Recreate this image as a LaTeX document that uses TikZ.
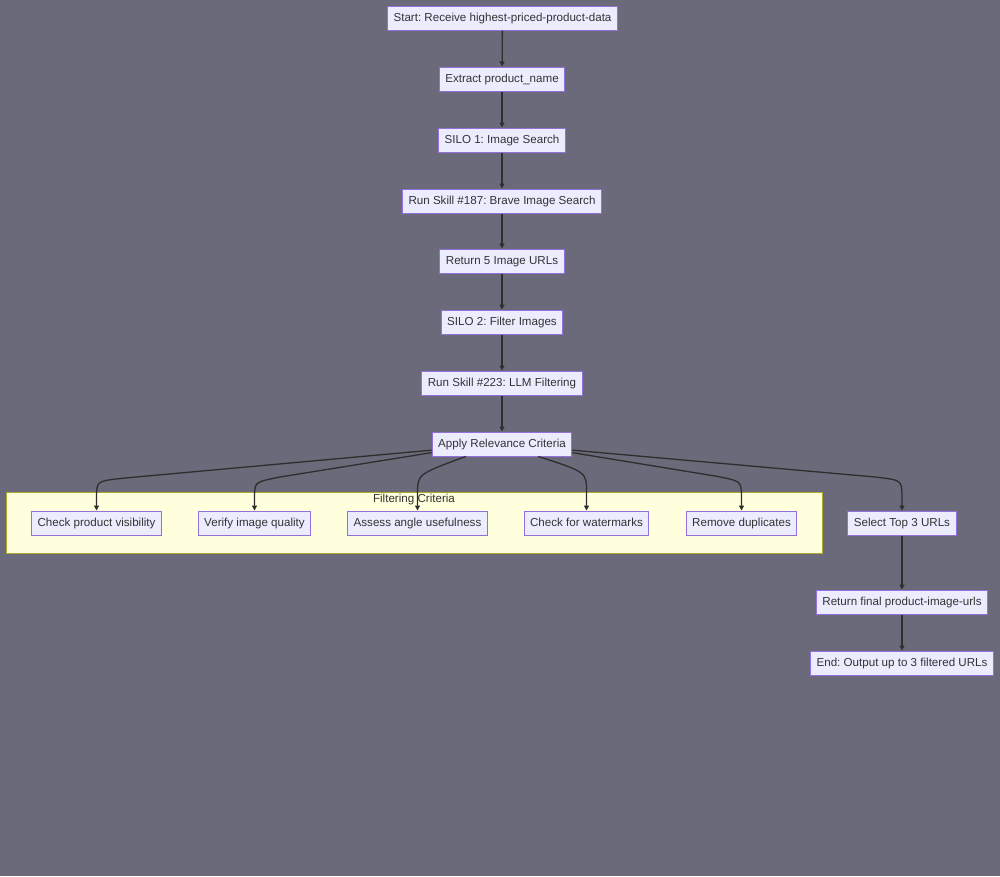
\documentclass[tikz,border=0pt]{standalone}
\usepackage{fontspec}
\setmainfont{Liberation Sans}
\usetikzlibrary{arrows.meta}
\frenchspacing
\definecolor{bg}{RGB}{106,106,122}
\definecolor{nodefill}{HTML}{ECECFF}
\definecolor{nodeline}{HTML}{9370DB}
\definecolor{txt}{HTML}{333333}
\definecolor{clfill}{HTML}{FFFFDE}
\definecolor{clline}{HTML}{AAAA33}
\definecolor{edge}{HTML}{2E2E2E}
\tikzset{
  box/.style={draw=nodeline, fill=nodefill, line width=1pt, text=txt,
    font=\fontsize{11.6}{13}\selectfont\frenchspacing, minimum height=24pt, inner ysep=0pt, inner xsep=6pt,
    text height=9.8pt, text depth=2.2pt},
  conn/.style={draw=edge, line width=1.3pt, -{Triangle[length=5pt,width=5pt]}},
  cluster/.style={draw=clline, fill=clfill, line width=1pt},
  cltitle/.style={text=txt, font=\fontsize{11.6}{13}\selectfont}
}
\begin{document}
\begin{tikzpicture}[x=1pt,y=-1pt]
\fill[bg] (0,0) rectangle (1000,876);
\useasboundingbox (0,0) rectangle (1000,876);
% cluster
\draw[cluster] (6,492) rectangle (822,553);
\node[cltitle] (cltitle) at (414,499) {Filtering Criteria};
% main chain
\node[box] (start) at (502.5,18) {Start: Receive highest-priced-product-data};
\node[box] (extract) at (502,79) {Extract product\_name};
\node[box] (silo1) at (502,140) {SILO 1: Image Search};
\node[box] (skill187) at (502,201) {Run Skill \#187: Brave Image Search};
\node[box] (ret5) at (502,261) {Return 5 Image URLs};
\node[box] (silo2) at (502,322) {SILO 2: Filter Images};
\node[box] (skill223) at (502,383) {Run Skill \#223: LLM Filtering};
\node[box] (apply) at (502,444) {Apply Relevance Criteria};
% filter nodes
\node[box] (vis) at (96.5,523) {Check product visibility};
\node[box] (qual) at (254.5,523) {Verify image quality};
\node[box] (angle) at (417.5,523) {Assess angle usefulness};
\node[box] (water) at (586.5,523) {Check for watermarks};
\node[box] (dup) at (741.5,523) {Remove duplicates};
\node[box] (top3) at (902,523) {Select Top 3 URLs};
\node[box] (final) at (902,602) {Return final product-image-urls};
\node[box] (endn) at (902,663) {End: Output up to 3 filtered URLs};
% straight edges
\draw[conn] (start) -- (extract);
\draw[conn] (extract) -- (silo1);
\draw[conn] (silo1) -- (skill187);
\draw[conn] (skill187) -- (ret5);
\draw[conn] (ret5) -- (silo2);
\draw[conn] (silo2) -- (skill223);
\draw[conn] (skill223) -- (apply);
\draw[conn] (top3) -- (final);
\draw[conn] (final) -- (endn);
% curved edges
\draw[conn] (apply.185) -- (125,478) .. controls (97,481) .. (96.5,495) -- (vis.north);
\draw[conn] (apply.187) -- (280,477) .. controls (255,482) .. (254.5,495) -- (qual.north);
\draw[conn] (apply.199) .. controls (418,474) .. (417.5,492) -- (angle.north);
\draw[conn] (apply.341) .. controls (586.5,472) .. (586.5,492) -- (water.north);
\draw[conn] (apply.353) -- (715,476) .. controls (741,481) .. (741.5,495) -- (dup.north);
\draw[conn] (apply.355) -- (875,477) .. controls (901.5,480) .. (902,495) -- (top3.north);
\end{tikzpicture}
\end{document}
